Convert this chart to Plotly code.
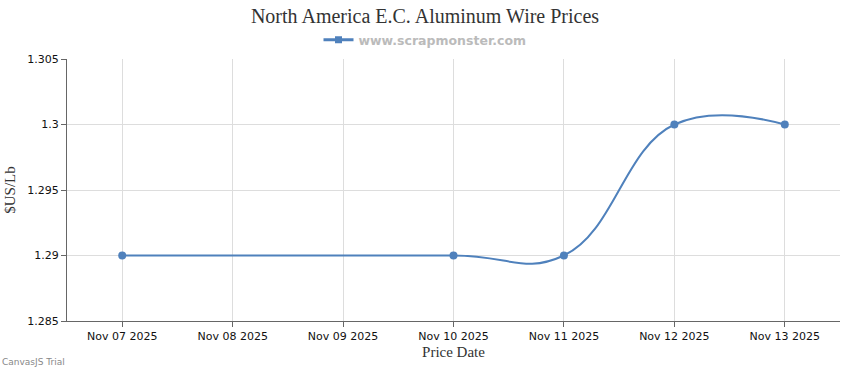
import plotly.graph_objects as go

dates = ["2025-11-07", "2025-11-10", "2025-11-11", "2025-11-12", "2025-11-13"]
prices = [1.29, 1.29, 1.29, 1.30, 1.30]
tick_dates = ["2025-11-07", "2025-11-08", "2025-11-09", "2025-11-10",
              "2025-11-11", "2025-11-12", "2025-11-13"]
tick_labels = ["Nov 07 2025", "Nov 08 2025", "Nov 09 2025", "Nov 10 2025",
               "Nov 11 2025", "Nov 12 2025", "Nov 13 2025"]
y_ticks = [1.285, 1.29, 1.295, 1.3, 1.305]
y_tick_labels = ["1.285", "1.29", "1.295", "1.3", "1.305"]
series_name = "www.scrapmonster.com"

color = "#4F81BC"

fig = go.Figure()
fig.add_trace(go.Scatter(
    x=dates, y=prices, mode="lines+markers",
    name=series_name, showlegend=False,
    line=dict(color=color, width=2, shape="spline", smoothing=1.2),
    marker=dict(color=color, size=8, symbol="circle"),
))
# legend entry (square marker as in the reference)
fig.add_trace(go.Scatter(
    x=[None], y=[None], mode="lines+markers", name=series_name,
    line=dict(color=color, width=3),
    marker=dict(color=color, size=7, symbol="square"),
))

fig.update_layout(
    width=850, height=370,
    paper_bgcolor="white", plot_bgcolor="white",
    margin=dict(l=67, r=10, t=59, b=49, autoexpand=False),
    title=dict(text="North America E.C. Aluminum Wire Prices",
               font=dict(family="Liberation Serif", size=20, color="#333"),
               x=0.5, xanchor="center", y=1 - 16 / 370, yanchor="middle"),
    showlegend=True,
    legend=dict(orientation="h", x=(425 - 67) / 773, xanchor="center",
                y=1 + 19 / 262, yanchor="middle",
                font=dict(family="DejaVu Sans", size=12.5, color="#bbbbbb", weight="bold"),
                itemwidth=30),
    xaxis=dict(
        type="date",
        range=["2025-11-06 12:00", "2025-11-13 12:00"],
        tickvals=tick_dates, ticktext=tick_labels,
        tickfont=dict(family="DejaVu Sans", size=11, color="#111"),
        showgrid=True, gridcolor="#dddddd", gridwidth=1,
        showline=True, linecolor="#666", linewidth=1,
        ticks="outside", ticklen=5, tickcolor="#666",
        title=dict(text="Price Date", font=dict(family="Liberation Serif", size=15, color="#333"),
                   standoff=4),
        zeroline=False,
    ),
    yaxis=dict(
        range=[1.285, 1.305],
        tickvals=y_ticks, ticktext=y_tick_labels,
        tickfont=dict(family="DejaVu Sans", size=11, color="#111"),
        showgrid=True, gridcolor="#dddddd", gridwidth=1,
        showline=True, linecolor="#666", linewidth=1,
        ticks="outside", ticklen=5, tickcolor="#666",
        title=dict(text="$US/Lb", font=dict(family="Liberation Serif", size=15, color="#333"),
                   standoff=8),
        zeroline=False,
    ),
)

fig.add_annotation(text="CanvasJS Trial", xref="paper", yref="paper",
                   x=-67 / 773, y=-48 / 262, xanchor="left", yanchor="bottom",
                   showarrow=False,
                   font=dict(family="DejaVu Sans", size=9, color="#888"))

fig.write_html("out.html",
               config={"displayModeBar": False},
               post_script="document.body.style.margin='0';document.body.style.overflow='hidden';")
